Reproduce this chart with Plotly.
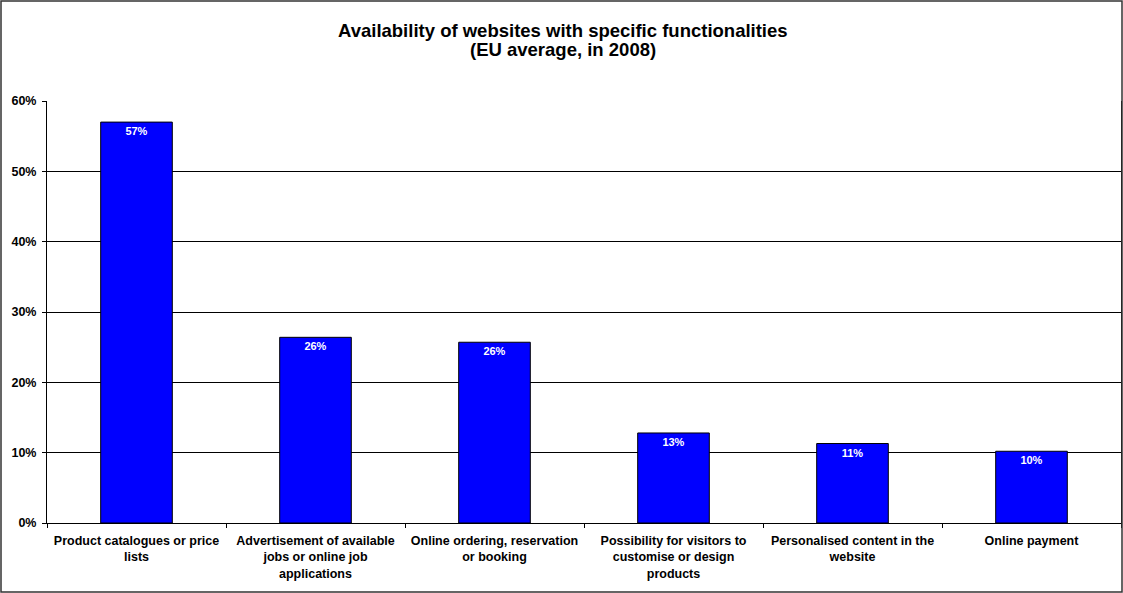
import plotly.graph_objects as go

categories = [
    "Product catalogues or price<br>lists",
    "Advertisement of available<br>jobs or online job<br>applications",
    "Online ordering, reservation<br>or booking",
    "Possibility for visitors to<br>customise or design<br>products",
    "Personalised content in the<br>website",
    "Online payment",
]
values = [57.0, 26.4, 25.7, 12.8, 11.3, 10.2]
labels = ["57%", "26%", "26%", "13%", "11%", "10%"]
y_ticks = [0, 10, 20, 30, 40, 50, 60]
y_tick_labels = ["0%", "10%", "20%", "30%", "40%", "50%", "60%"]
title_lines = ["Availability of websites with specific functionalities", "(EU average, in 2008)"]

W, H = 1123, 593
ml, mr, mt, mb = 47, 2, 101, 70
pw, ph = W - ml - mr, H - mt - mb
FONT = "Liberation Sans, Arial"

fig = go.Figure(go.Bar(
    x=categories,
    y=values,
    text=labels,
    textposition="inside",
    insidetextanchor="end",
    textangle=0,
    textfont=dict(family=FONT, size=11, color="white", weight="bold"),
    marker=dict(color="#0000FF", line=dict(color="black", width=1)),
    hoverinfo="skip",
))

title_centers = [31, 50]
annotations = []
for line, yc in zip(title_lines, title_centers):
    annotations.append(dict(
        text="<b>" + line + "</b>", showarrow=False,
        xref="paper", yref="paper",
        x=(563 - ml) / pw, xanchor="center",
        y=1 + (mt - yc) / ph, yanchor="middle",
        font=dict(family=FONT, size=18.5, color="black"),
    ))

fig.update_layout(
    width=W, height=H,
    margin=dict(l=ml, r=mr, t=mt, b=mb, pad=0),
    paper_bgcolor="white",
    plot_bgcolor="white",
    bargap=0.6,
    showlegend=False,
    font=dict(family=FONT, size=12, color="black"),
    annotations=annotations,
    xaxis=dict(
        type="category",
        tickson="boundaries",
        ticks="outside", ticklen=4, tickcolor="black", tickwidth=1,
        showline=True, linecolor="black", linewidth=1,
        showgrid=False,
        ticklabelstandoff=6,
        tickfont=dict(family=FONT, size=12.5, color="black", weight="bold"),
    ),
    yaxis=dict(
        range=[0, 60],
        tickvals=y_ticks,
        ticktext=y_tick_labels,
        ticks="outside", ticklen=4, tickcolor="black", tickwidth=1,
        showline=True, linecolor="black", linewidth=1, mirror=True,
        showgrid=True, gridcolor="black", gridwidth=1,
        zeroline=False,
        ticklabelstandoff=3,
        tickfont=dict(family=FONT, size=12.5, color="black", weight="bold"),
    ),
    shapes=[dict(
        type="rect", xref="paper", yref="paper",
        x0=(1 - ml) / pw, x1=(W - 1 - ml) / pw,
        y0=-(H - 1 - (mt + ph)) / ph, y1=1 + (mt - 1) / ph,
        line=dict(color="#333333", width=1.5),
        fillcolor="rgba(0,0,0,0)", layer="above",
    )],
)

fig.write_html("out.html", config={"displayModeBar": False},
               post_script="document.body.style.margin='0';")
